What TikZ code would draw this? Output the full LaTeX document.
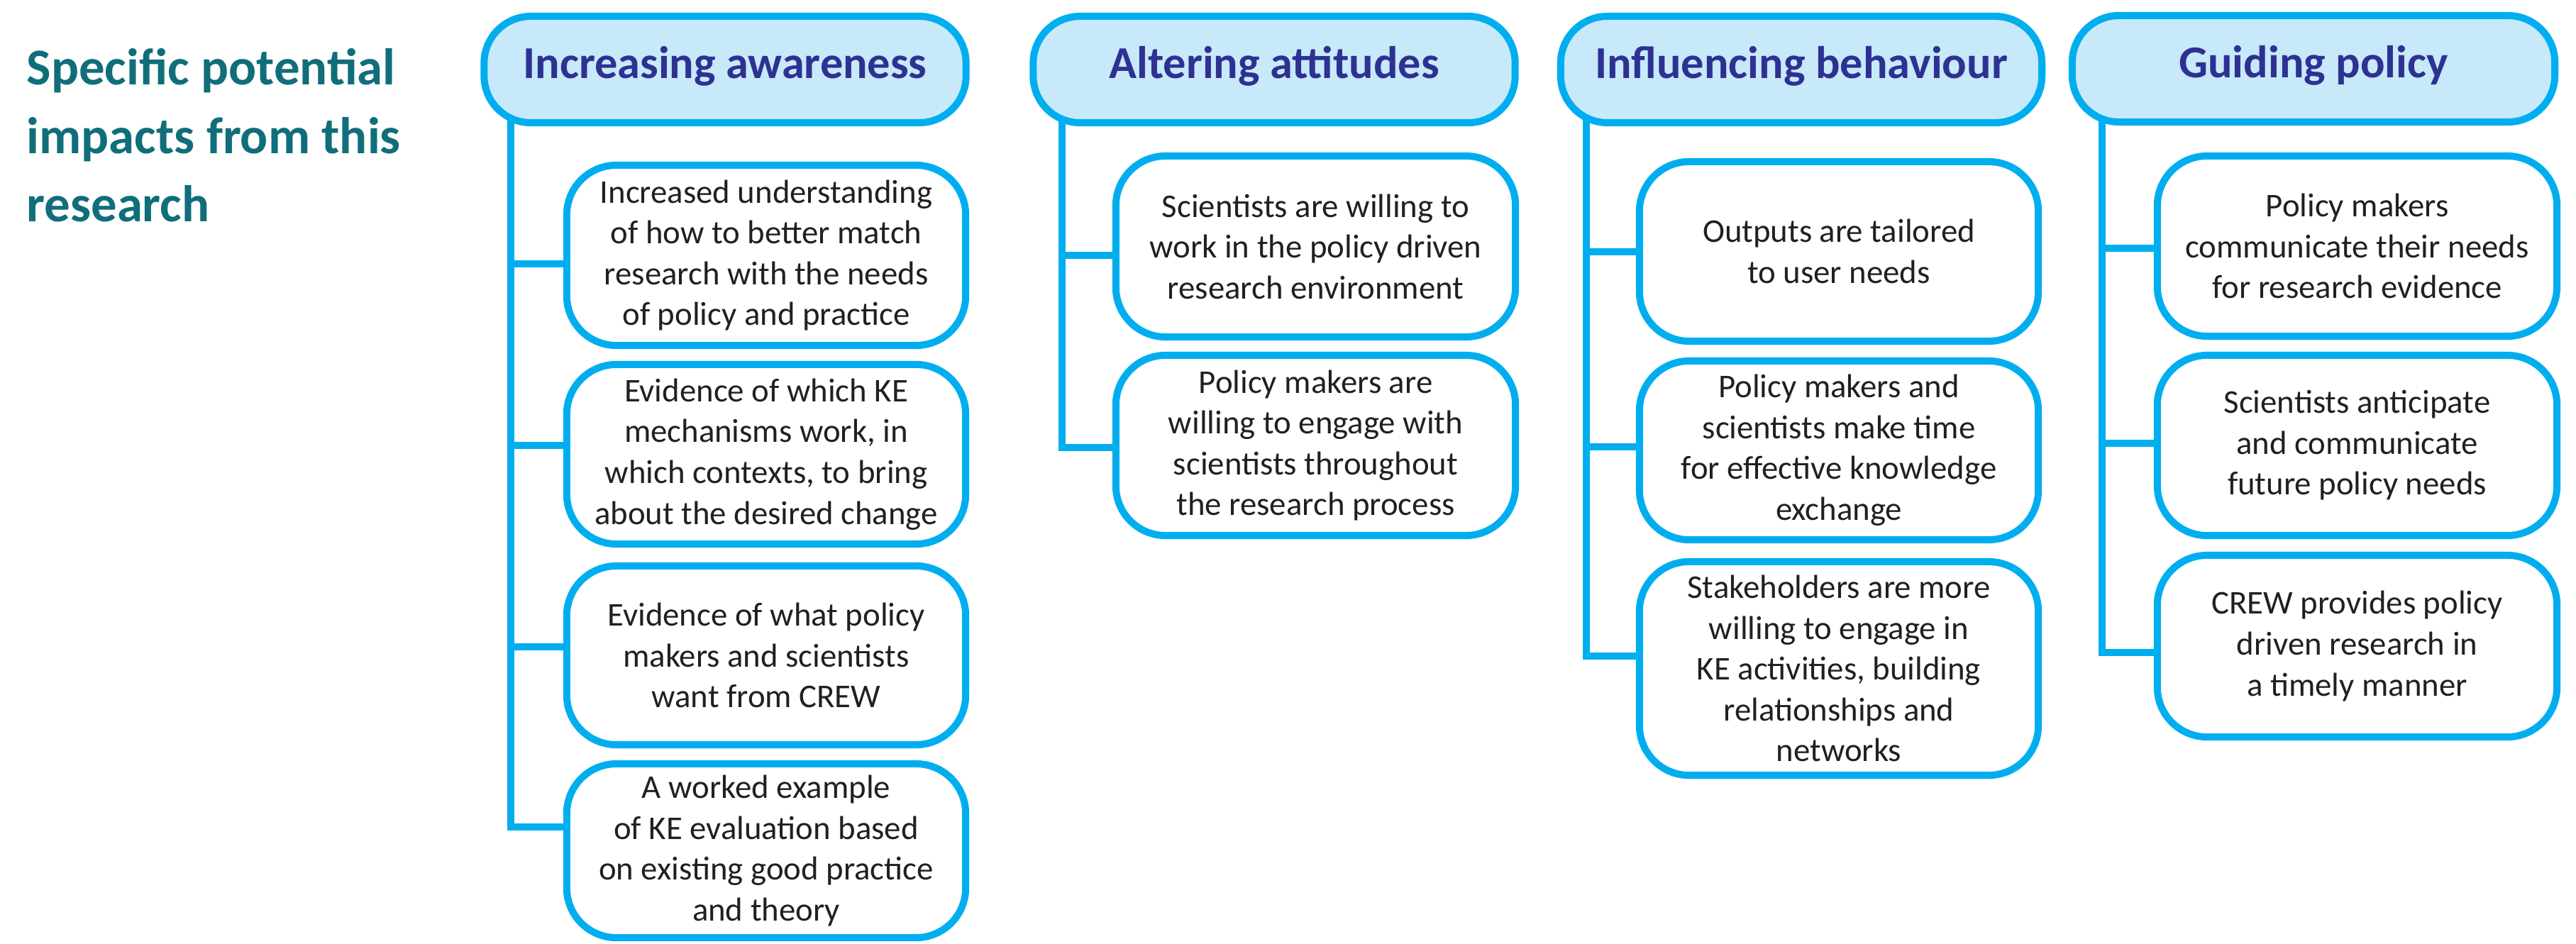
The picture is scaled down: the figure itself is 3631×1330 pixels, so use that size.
\documentclass[tikz,border=0pt]{standalone}
\usepackage{fontspec}
\setmainfont{Carlito}
\usetikzlibrary{backgrounds}
\definecolor{cyanline}{RGB}{0,174,239}
\definecolor{hdrfill}{RGB}{199,233,249}
\definecolor{hdrtext}{RGB}{46,49,146}
\definecolor{titletext}{RGB}{16,110,122}
\definecolor{itemtext}{RGB}{35,31,32}
\newcommand\hdrfnt{\fontsize{18.3}{22}\selectfont\bfseries}
\newcommand\itmfnt{\fontsize{13.3}{16.36}\selectfont}
\newcommand\ttlfnt{\fontsize{20.7}{27.45}\selectfont\bfseries}
\begin{document}
\begin{tikzpicture}[x=0.01cm, y=-0.01cm,
  hdr/.style={draw=cyanline, line width=2.85pt, fill=hdrfill, rounded corners=0.66cm,
    minimum width=6.79cm, minimum height=1.5cm, font=\hdrfnt, text=hdrtext,
    text height=0.42cm, text depth=0.17cm, inner sep=0pt},
  item/.style={draw=cyanline, line width=2.85pt, fill=white, rounded corners=0.7cm,
    minimum width=5.62cm, minimum height=2.54cm, font=\itmfnt, text=itemtext,
    align=center, inner sep=0pt},
  conn/.style={draw=cyanline, line width=2.85pt},
  ttl/.style={font=\ttlfnt, text=titletext, align=left, inner sep=0pt, anchor=north west}]
\useasboundingbox (0,0) rectangle (3631,1330);

% title
\node[ttl] (title) at (37,68) {Specific potential\\impacts from this\\research};

% column 1
\node[hdr] (h1) at (1022,98) {Increasing awareness};
\node[item] (c11) at (1080,360) {Increased understanding\\of how to better match\\research with the needs\\of policy and practice};
\node[item, minimum height=2.53cm] (c12) at (1080,640.5) {Evidence of which KE\\mechanisms work, in\\which contexts, to bring\\about the desired change};
\node[item, minimum height=2.52cm] (c13) at (1080,924) {Evidence of what policy\\makers and scientists\\want from CREW};
\node[item, minimum height=2.45cm] (c14) at (1080,1199.5) {A worked example\\of KE evaluation based\\on existing good practice\\and theory};

% column 2
\node[hdr] (h2) at (1796,98) {Altering attitudes};
\node[item, minimum width=5.63cm, minimum height=2.55cm] (c21) at (1854.5,347.5) {Scientists are willing to\\work in the policy driven\\research environment};
\node[item, minimum width=5.63cm] (c22) at (1854.5,628) {Policy makers are\\willing to engage with\\scientists throughout\\the research process};

% column 3
\node[hdr, minimum width=6.78cm] (h3) at (2539,98) {Influencing behaviour};
\node[item, minimum height=2.53cm] (c31) at (2592,354.5) {Outputs are tailored\\to user needs};
\node[item, minimum height=2.52cm] (c32) at (2592,635) {Policy makers and\\scientists make time\\for effective knowledge\\exchange};
\node[item, minimum height=3.01cm] (c33) at (2592,942.5) {Stakeholders are more\\willing to engage in\\KE activities, building\\relationships and\\networks};

% column 4
\node[hdr, minimum width=6.80cm] (h4) at (3261,97) {Guiding policy};
\node[item, minimum width=5.63cm] (c41) at (3322.5,347) {Policy makers\\communicate their needs\\for research evidence};
\node[item, minimum width=5.63cm] (c42) at (3322.5,628) {Scientists anticipate\\and communicate\\future policy needs};
\node[item, minimum width=5.63cm, minimum height=2.56cm] (c43) at (3322.5,911) {CREW provides policy\\driven research in\\a timely manner};

% branch points
\coordinate (b11) at (720,372);
\coordinate (b12) at (720,628);
\coordinate (b13) at (720,912);
\coordinate (b14) at (720,1166);
\coordinate (b21) at (1497,360);
\coordinate (b22) at (1497,631);
\coordinate (b31) at (2236,355);
\coordinate (b32) at (2236,630);
\coordinate (b33) at (2236,925);
\coordinate (b41) at (2963,350);
\coordinate (b42) at (2963,625);
\coordinate (b43) at (2963,920);

\begin{scope}[on background layer]
  \draw[conn] (h1.center -| b14) |- (c14.west |- b14);
  \draw[conn] (b11) -- (c11.west |- b11);
  \draw[conn] (b12) -- (c12.west |- b12);
  \draw[conn] (b13) -- (c13.west |- b13);
  \draw[conn] (h2.center -| b22) |- (c22.west |- b22);
  \draw[conn] (b21) -- (c21.west |- b21);
  \draw[conn] (h3.center -| b33) |- (c33.west |- b33);
  \draw[conn] (b31) -- (c31.west |- b31);
  \draw[conn] (b32) -- (c32.west |- b32);
  \draw[conn] (h4.center -| b43) |- (c43.west |- b43);
  \draw[conn] (b41) -- (c41.west |- b41);
  \draw[conn] (b42) -- (c42.west |- b42);
\end{scope}
\end{tikzpicture}
\end{document}
